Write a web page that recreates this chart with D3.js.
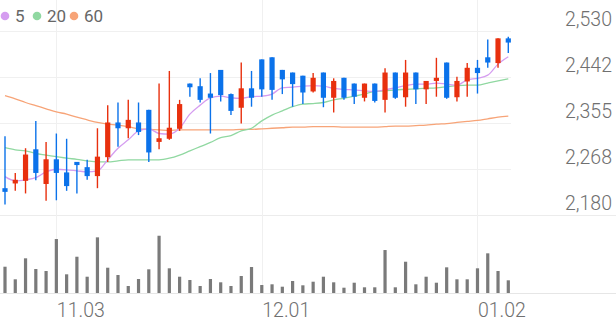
<!DOCTYPE html>
<html>
<head>
<meta charset="utf-8">
<script src="https://cdn.jsdelivr.net/npm/d3@7"></script>
<style>
  html, body { margin: 0; padding: 0; background: #fff; }
  svg { display: block; font-family: Roboto, "Noto Sans", sans-serif; }
</style>
</head>
<body>
<svg id="chart" width="616" height="321"></svg>
<script>
// trading days, 10.27 -> 01.07
const dates = [
  "10.27", "10.28", "10.29", "10.30", "10.31",
  "11.03", "11.04", "11.05", "11.06", "11.07",
  "11.10", "11.11", "11.12", "11.13", "11.14",
  "11.17", "11.18", "11.19", "11.20", "11.21",
  "11.24", "11.25", "11.26", "11.27", "11.28",
  "12.01", "12.02", "12.03", "12.04", "12.05",
  "12.08", "12.09", "12.10", "12.11", "12.12",
  "12.15", "12.16", "12.17", "12.18", "12.19",
  "12.22", "12.23", "12.24", "12.26", "12.29",
  "12.30", "01.02", "01.05", "01.06", "01.07",
];

const opens = [2231, 2240, 2245, 2305, 2239, 2286, 2261, 2281, 2271, 2254, 2290, 2356, 2345, 2356, 2380, 2319, 2325, 2344, 2430, 2425, 2411, 2456, 2410, 2384, 2421, 2476, 2480, 2456, 2451, 2445, 2415, 2451, 2403, 2441, 2430, 2403, 2430, 2399, 2451, 2404, 2451, 2419, 2435, 2470, 2404, 2434, 2460, 2480, 2469, 2516];
const highs = [2330, 2260, 2307, 2359, 2319, 2335, 2325, 2281, 2285, 2345, 2389, 2394, 2399, 2394, 2380, 2430, 2454, 2399, 2430, 2440, 2450, 2456, 2411, 2470, 2454, 2476, 2480, 2456, 2451, 2445, 2450, 2451, 2440, 2441, 2430, 2430, 2430, 2459, 2451, 2475, 2451, 2435, 2479, 2470, 2443, 2469, 2475, 2514, 2516, 2519];
const lows = [2200, 2226, 2221, 2246, 2207, 2208, 2226, 2221, 2247, 2231, 2281, 2310, 2326, 2332, 2281, 2305, 2323, 2340, 2405, 2394, 2335, 2396, 2370, 2354, 2386, 2405, 2399, 2410, 2386, 2391, 2413, 2385, 2375, 2399, 2391, 2396, 2394, 2375, 2401, 2386, 2391, 2391, 2405, 2401, 2396, 2405, 2411, 2460, 2460, 2488];
const closes = [2224, 2247, 2295, 2260, 2286, 2260, 2235, 2275, 2254, 2291, 2356, 2345, 2361, 2338, 2299, 2326, 2346, 2391, 2423, 2399, 2403, 2408, 2378, 2421, 2403, 2419, 2418, 2438, 2429, 2413, 2441, 2403, 2435, 2403, 2405, 2430, 2397, 2451, 2403, 2451, 2419, 2435, 2441, 2403, 2435, 2460, 2450, 2470, 2516, 2508];

const ma5 = [2253, 2245, 2247, 2251, 2262, 2267, 2266, 2264, 2262, 2264, 2285, 2307, 2323, 2340, 2344, 2335, 2334, 2345, 2372, 2389, 2403, 2406, 2403, 2402, 2405, 2406, 2410, 2422, 2423, 2425, 2426, 2425, 2421, 2419, 2418, 2416, 2415, 2418, 2422, 2426, 2429, 2429, 2431, 2429, 2427, 2437, 2440, 2446, 2467, 2481];
const ma20 = [2308, 2304, 2302, 2297, 2294, 2291, 2288, 2286, 2283, 2281, 2281, 2283, 2285, 2285, 2285, 2285, 2288, 2294, 2302, 2310, 2318, 2327, 2331, 2340, 2345, 2359, 2370, 2378, 2386, 2391, 2392, 2394, 2399, 2402, 2406, 2410, 2415, 2416, 2418, 2419, 2420, 2421, 2422, 2424, 2426, 2427, 2427, 2431, 2435, 2439];
const ma60 = [2407, 2401, 2394, 2388, 2382, 2376, 2372, 2366, 2361, 2356, 2353, 2351, 2348, 2344, 2343, 2342, 2341, 2342, 2342, 2342, 2342, 2342, 2342, 2343, 2343, 2344, 2345, 2346, 2347, 2347, 2348, 2348, 2348, 2347, 2347, 2347, 2347, 2348, 2349, 2349, 2350, 2351, 2353, 2354, 2356, 2358, 2360, 2363, 2366, 2368];

// volume, thousands of shares
const volumes = [263, 137, 347, 240, 220, 540, 187, 363, 163, 557, 253, 180, 70, 140, 237, 573, 247, 163, 130, 70, 140, 107, 70, 170, 260, 80, 87, 63, 120, 77, 113, 163, 107, 53, 103, 57, 57, 430, 57, 313, 87, 163, 103, 257, 137, 137, 247, 397, 220, 127];

const maNames = ["5", "20", "60"];
const priceTicks = [2180, 2267.5, 2355, 2442.5, 2530];
const priceTickLabels = ["2,180", "2,268", "2,355", "2,442", "2,530"];
const dateTicks = ["11.03", "12.01", "01.02"];

const width = 616,
  height = 321;

const UP = "#e8300e",
  DOWN = "#0b72ea";
const maColors = ["#d59df0", "#90d8a1", "#f7a478"];

const svg = d3.select("#chart");

const x = d3.scalePoint().domain(dates).range([5, 508.3]);
const y = d3.scaleLinear().domain([2180, 2530]).range([215, 31]);
const yVol = d3
  .scaleLinear()
  .domain([0, d3.max(volumes) * 1.24])
  .range([293, 222]);

// grid
svg
  .append("g")
  .selectAll("line")
  .data(priceTicks.slice(1))
  .join("line")
  .attr("x1", 0)
  .attr("x2", 511)
  .attr("y1", (d) => Math.round(y(d)) + 0.5)
  .attr("y2", (d) => Math.round(y(d)) + 0.5)
  .attr("stroke", "#f0f0f0");

svg
  .append("line")
  .attr("x1", 0)
  .attr("x2", width)
  .attr("y1", Math.round(y(2180)) + 0.5)
  .attr("y2", Math.round(y(2180)) + 0.5)
  .attr("stroke", "#ececec");

svg
  .append("g")
  .selectAll("line")
  .data(dateTicks)
  .join("line")
  .attr("x1", (d) => Math.round(x(d)) + 0.5)
  .attr("x2", (d) => Math.round(x(d)) + 0.5)
  .attr("y1", 0)
  .attr("y2", 293)
  .attr("stroke", "#f0f0f0");

// y labels on the right
svg
  .append("g")
  .selectAll("text")
  .data(priceTicks)
  .join("text")
  .attr("x", 612)
  .attr("y", (d) => y(d) - 5)
  .attr("text-anchor", "end")
  .attr("font-size", 19.5)
  .attr("font-weight", 300)
  .attr("fill", "#707070")
  .text((d, i) => priceTickLabels[i]);

// moving averages
const line = (vals) =>
  d3
    .line()
    .x((d, i) => x(dates[i]))
    .y((d) => y(d))
    .curve(d3.curveMonotoneX)(vals);

[ma60, ma20, ma5].forEach((vals, k) => {
  svg
    .append("path")
    .attr("d", line(vals))
    .attr("fill", "none")
    .attr("stroke", maColors[2 - k])
    .attr("stroke-width", 1.3);
});

// candles
const candles = dates.map((d, i) => ({
  date: d,
  open: opens[i],
  high: highs[i],
  low: lows[i],
  close: closes[i],
}));

const cg = svg
  .append("g")
  .selectAll("g")
  .data(candles)
  .join("g")
  .attr("fill", (d) => (d.close >= d.open ? UP : DOWN))
  .attr("stroke", (d) => (d.close >= d.open ? UP : DOWN));

cg.append("line")
  .attr("x1", (d) => x(d.date))
  .attr("x2", (d) => x(d.date))
  .attr("y1", (d) => y(d.high))
  .attr("y2", (d) => y(d.low))
  .attr("stroke-width", 1.4);

cg.append("rect")
  .attr("x", (d) => x(d.date) - 2.6)
  .attr("width", 5.2)
  .attr("y", (d) => y(Math.max(d.open, d.close)))
  .attr("height", (d) => Math.max(1.5, Math.abs(y(d.open) - y(d.close))))
  .attr("stroke", "none");

// volume
svg
  .append("g")
  .selectAll("rect")
  .data(volumes)
  .join("rect")
  .attr("x", (d, i) => x(dates[i]) - 1.6)
  .attr("width", 3.2)
  .attr("y", (d) => yVol(d))
  .attr("height", (d) => yVol(0) - yVol(d))
  .attr("fill", "#7a7a7a");

svg
  .append("line")
  .attr("x1", 0)
  .attr("x2", width)
  .attr("y1", 293.5)
  .attr("y2", 293.5)
  .attr("stroke", "#e6e6e6");

// date labels
svg
  .append("g")
  .selectAll("text")
  .data(dateTicks)
  .join("text")
  .attr("x", (d) => x(d) + 0.5)
  .attr("y", 316.5)
  .attr("font-size", 19.5)
  .attr("font-weight", 300)
  .attr("fill", "#707070")
  .text((d) => d);

// legend
const legendX = [5, 37, 74];
const lg = svg
  .append("g")
  .selectAll("g")
  .data(maNames)
  .join("g")
  .attr("transform", (d, i) => `translate(${legendX[i]},16)`);

lg.append("circle")
  .attr("r", 4.3)
  .attr("fill", (d, i) => maColors[i]);

lg.append("text")
  .attr("x", 10)
  .attr("y", 6)
  .attr("font-size", 17)
  .attr("fill", "#666")
  .text((d) => d);
</script>
</body>
</html>
